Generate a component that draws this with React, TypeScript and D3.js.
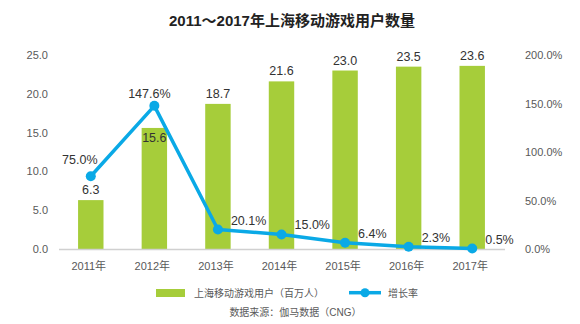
import React from "react";
import * as d3 from "d3";

const years = ["2011年", "2012年", "2013年", "2014年", "2015年", "2016年", "2017年"];
const users = [6.3, 15.6, 18.7, 21.6, 23.0, 23.5, 23.6];
const growth = [75.0, 147.6, 20.1, 15.0, 6.4, 2.3, 0.5];
const leftTicks = [0, 5, 10, 15, 20, 25];
const rightTicks = [0, 50, 100, 150, 200];
const barLabelPlace = ["above", "inside", "above", "above", "above", "above", "above"];
const lineLabelPlace = ["aboveLeft", "above", "right", "right", "right", "right", "right"];

const title = "2011～2017年上海移动游戏用户数量";
const legendBar = "上海移动游戏用户（百万人）";
const legendLine = "增长率";
const source = "数据来源：伽马数据（CNG）";

const W = 580;
const H = 324;
const FONT = "'Liberation Sans', Arial, 'Noto Sans CJK SC', sans-serif";
const GREEN = "#a6cd3a";
const BLUE = "#0aa9e6";

export default function App() {
  const x = d3.scaleBand<string>().domain(years).range([59, 504]).paddingInner(0.6).paddingOuter(0.3);
  const yL = d3.scaleLinear().domain([0, 25]).range([249, 55]);
  const yR = d3.scaleLinear().domain([0, 200]).range([249, 55]);
  const bw = x.bandwidth();
  const cx = (d: string) => (x(d) as number) + bw / 2;
  const pts: [number, number][] = years.map((d, i) => [cx(d), yR(growth[i])]);
  const line = d3.line()(pts) as string;

  return (
    <svg width={W} height={H} style={{ position: "absolute", left: 0, top: 0, fontFamily: FONT }}>
      <rect width={W} height={H} fill="#fff" />
      <text x={292} y={26} textAnchor="middle" fontSize={15} fontWeight="bold" fill="#222">{title}</text>
      {leftTicks.map((t) => (
        <text key={"l" + t} x={48} y={yL(t) + 4} textAnchor="end" fontSize={11} fill="#595959">{t.toFixed(1)}</text>
      ))}
      {rightTicks.map((t) => (
        <text key={"r" + t} x={525} y={yR(t) + 4} textAnchor="start" fontSize={11} fill="#595959">{t.toFixed(1) + "%"}</text>
      ))}
      {years.map((d, i) => (
        <rect key={"b" + d} x={x(d)} y={yL(users[i])} width={bw} height={yL(0) - yL(users[i])} fill={GREEN} />
      ))}
      <line x1={59} x2={505} y1={249.5} y2={249.5} stroke="#d0d0d0" strokeWidth={1.5} />
      {years.map((d, i) => (
        <text key={"x" + d} x={cx(d) - 2} y={270} textAnchor="middle" fontSize={11} fill="#595959">{d}</text>
      ))}
      {years.map((d, i) => {
        const top = yL(users[i]);
        const yy = barLabelPlace[i] === "inside" ? top + 14 : top - 6;
        return (
          <text key={"bl" + d} x={cx(d)} y={yy} textAnchor="middle" fontSize={12.5} fill="#333">{users[i].toFixed(1)}</text>
        );
      })}
      <path d={line} fill="none" stroke={BLUE} strokeWidth={3.5} strokeLinejoin="round" />
      {pts.map((p, i) => (
        <circle key={"c" + i} cx={p[0]} cy={p[1]} r={5} fill={BLUE} />
      ))}
      {pts.map((p, i) => {
        const place = lineLabelPlace[i];
        let tx = p[0] + 13;
        let ty = p[1] - 5;
        let anchor = "start";
        if (place === "aboveLeft") { tx = p[0] - 11; ty = p[1] - 12; anchor = "middle"; }
        if (place === "above") { tx = p[0] - 5; ty = p[1] - 8; anchor = "middle"; }
        return (
          <text key={"ll" + i} x={tx} y={ty} textAnchor={anchor} fontSize={12.5} fill="#333">{growth[i].toFixed(1) + "%"}</text>
        );
      })}
      <rect x={156} y={289} width={29} height={8} fill={GREEN} />
      <text x={194} y={296.5} fontSize={10} fill="#595959">{legendBar}</text>
      <line x1={349} x2={381} y1={292.7} y2={292.7} stroke={BLUE} strokeWidth={3.5} />
      <circle cx={365} cy={292.7} r={4.5} fill={BLUE} />
      <text x={388} y={296.5} fontSize={10} fill="#595959">{legendLine}</text>
      <text x={295.5} y={316} textAnchor="middle" fontSize={10} fill="#595959">{source}</text>
    </svg>
  );
}
